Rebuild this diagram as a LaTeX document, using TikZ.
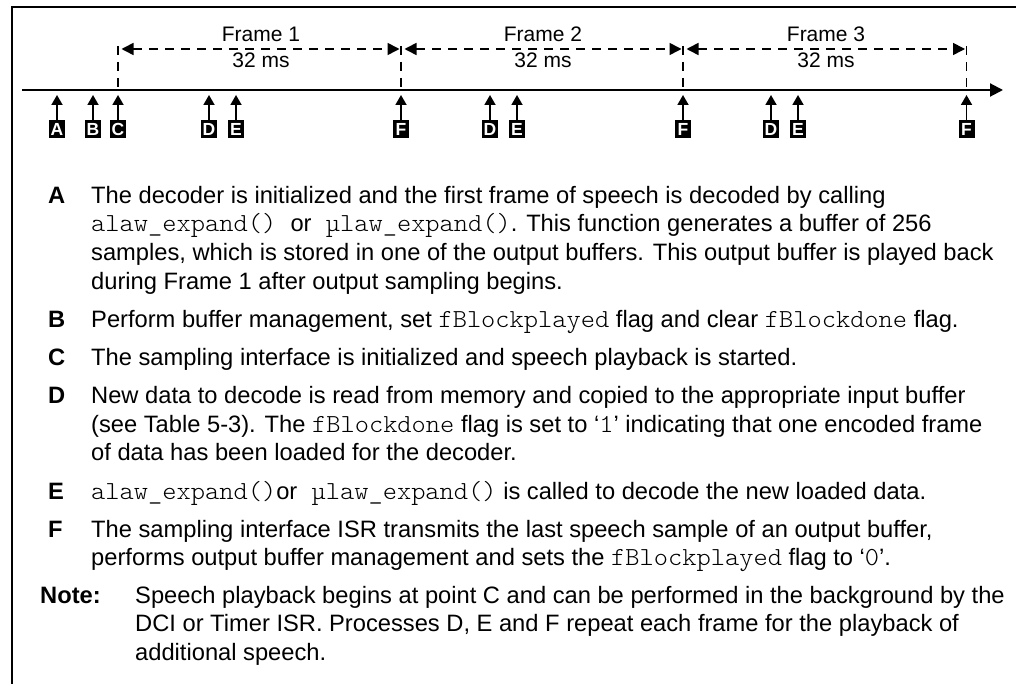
\documentclass[tikz,border=0pt]{standalone}
\usepackage{fontspec}
\setmainfont{Liberation Sans}
% thin typewriter face, widened slightly to a Courier-like advance
\setmonofont[FakeStretch=1.043]{lmmonolt10-regular.otf}
\usetikzlibrary{arrows.meta}

% type sizes: legend text, timeline labels, code
\newcommand\bodyfont{\fontsize{23.7}{28.7}\selectfont}
\newcommand\smallfont{\fontsize{21}{25}\selectfont}
\newcommand\code[1]{{\fontsize{26}{28.7}\selectfont\ttfamily #1}}

\begin{document}
\begin{tikzpicture}[x=1pt,y=-1pt,font=\bodyfont,
  txt/.style={anchor=base west,inner sep=0pt},
  tag/.style={anchor=base west,inner sep=0pt,font=\bodyfont\bfseries},
  framelbl/.style={anchor=base,inner sep=0pt,font=\smallfont},
  lbl/.style={fill=black,text=white,inner sep=0pt,
    minimum width=16pt,minimum height=17.5pt,
    font=\fontsize{17.5}{17.5}\selectfont\bfseries},
  uparr/.style={line width=1.8pt,-{Triangle[length=10pt,width=11pt]}},
  axis line/.style={line width=2pt,-{Triangle[length=13pt,width=13pt]}},
  framemark/.style={line width=1.6pt,dash pattern=on 9pt off 7pt},
  span/.style={line width=1.6pt,dash pattern=on 9pt off 7pt,
    {Triangle[length=12pt,width=12pt]}-{Triangle[length=12pt,width=12pt]},
    shorten <=3.5pt,shorten >=1.5pt},
  border/.style={line width=2.4pt}
]
\useasboundingbox (0,0) rectangle (1016,684);

% outer rule
\coordinate (bl) at (12,684);
\coordinate (tlc) at (12,7);
\coordinate (tr) at (1016,7);
\draw[border] (bl) -- (tlc) -- (tr);

% time axis
\coordinate (ax0) at (22,90);
\coordinate (ax1) at (1003,90);
\draw[axis line] (ax0) -- (ax1);

% frame boundaries
\foreach \n/\x in {0/118,1/401,2/683,3/966.5}{
  \coordinate (top\n) at (\x,46);
  \coordinate (mid\n) at (\x,49);
  \coordinate (bot\n) at (\x,90);
  \draw[framemark] (top\n) -- (bot\n);
}

% frame spans
\draw[span] (mid0) -- (mid1);
\draw[span] (mid1) -- (mid2);
\draw[span] (mid2) -- (mid3);
\node[framelbl] (fr1) at (261,42) {Frame 1};
\node[framelbl] (ms1) at (261,68) {32 ms};
\node[framelbl] (fr2) at (543,42) {Frame 2};
\node[framelbl] (ms2) at (543,68) {32 ms};
\node[framelbl] (fr3) at (826,42) {Frame 3};
\node[framelbl] (ms3) at (826,68) {32 ms};

% event markers
\foreach \id/\x/\t in {a/57/A,b/93/B,c/118/C,d1/209/D,e1/236/E,f1/401/F,
                       d2/490/D,e2/517/E,f2/683/F,d3/771/D,e3/798/E,f3/966.5/F}{
  \node[lbl] (L\id) at (\x,129) {\t};
  \coordinate (P\id) at (\x,95);
  \draw[uparr] (L\id.north) -- (P\id);
}

% legend
\node[tag] (kA) at (48,203.3) {A};
\node[txt] (tA1) at (91,203.3) {The decoder is initialized and the first frame of speech is decoded by calling};
\node[txt] (tA2) at (91,232) {\code{alaw\_expand() }or\code{ µlaw\_expand()}. This function generates a buffer of 256};
\node[txt] (tA3) at (91,260.7) {samples, which is stored in one of the output buffers. This output buffer is played back};
\node[txt] (tA4) at (91,289.4) {during Frame 1 after output sampling begins.};

\node[tag] (kB) at (48,327.5) {B};
\node[txt] (tB1) at (91,327.5) {Perform buffer management, set \code{fBlockplayed} flag and clear \code{fBlockdone} flag.};

\node[tag] (kC) at (48,365) {C};
\node[txt] (tC1) at (91,365) {The sampling interface is initialized and speech playback is started.};

\node[tag] (kD) at (48,403.3) {D};
\node[txt] (tD1) at (91,403.3) {New data to decode is read from memory and copied to the appropriate input buffer};
\node[txt] (tD2) at (91,432) {(see Table 5-3). The \code{fBlockdone} flag is set to `\code{1}' indicating that one encoded frame};
\node[txt] (tD3) at (91,460.7) {of data has been loaded for the decoder.};

\node[tag] (kE) at (48,499.7) {E};
\node[txt] (tE1) at (91,499.7) {\code{alaw\_expand()}or\code{ µlaw\_expand()} is called to decode the new loaded data.};

\node[tag] (kF) at (48,537) {F};
\node[txt] (tF1) at (91,537) {The sampling interface ISR transmits the last speech sample of an output buffer,};
\node[txt] (tF2) at (91,565.7) {performs output buffer management and sets the \code{fBlockplayed} flag to `\code{0}'.};

\node[tag] (kN) at (40,603) {Note:};
\node[txt] (tN1) at (135,603) {Speech playback begins at point C and can be performed in the background by the};
\node[txt] (tN2) at (135,631.7) {DCI or Timer ISR. Processes D, E and F repeat each frame for the playback of};
\node[txt] (tN3) at (135,660.4) {additional speech.};
\end{tikzpicture}
\end{document}
